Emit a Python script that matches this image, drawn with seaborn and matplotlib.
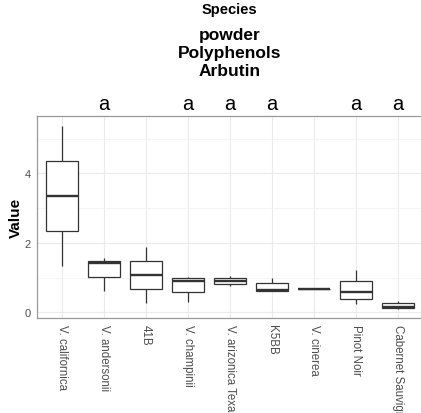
import numpy as np
import pandas as pd
import matplotlib
matplotlib.use("Agg")
import matplotlib.pyplot as plt
import matplotlib.transforms as mtransforms
from matplotlib.ticker import FixedLocator
import seaborn as sns

# Species shown on the x axis, left to right
species = ["V. californica", "V. andersonii", "41B", "V. champinii",
           "V. arizonica Texas", "K5BB", "V. cinerea", "Pinot Noir",
           "Cabernet Sauvignon"]

# Arbutin values per species (min, Q1, median, Q3, max)
v_californica = [1.34, 2.35, 3.36, 4.36, 5.37]
v_andersonii = [0.62, 1.01, 1.42, 1.49, 1.56]
v_41b = [0.27, 0.66, 1.08, 1.48, 1.87]
v_champinii = [0.29, 0.59, 0.90, 0.98, 1.02]
v_arizonica_texas = [0.77, 0.81, 0.90, 0.98, 1.04]
v_k5bb = [0.62, 0.62, 0.65, 0.84, 1.00]
v_cinerea = [0.66, 0.66, 0.66, 0.66, 0.66]
v_pinot_noir = [0.23, 0.40, 0.59, 0.90, 1.22]
v_cabernet = [0.10, 0.13, 0.17, 0.26, 0.32]

# Significance group letters above each species
letters = ["", "a", "", "a", "a", "a", "", "a", "a"]

y_ticks = [0, 2, 4]
title_lines = ["powder", "Polyphenols", "Arbutin"]

values = [v_californica, v_andersonii, v_41b, v_champinii, v_arizonica_texas,
          v_k5bb, v_cinerea, v_pinot_noir, v_cabernet]
df = pd.DataFrame({
    "Species": np.repeat(species, [len(v) for v in values]),
    "Value": np.concatenate(values),
})

sns.set_theme(style="white")
plt.rcParams["font.family"] = ["Liberation Sans", "DejaVu Sans"]

W, H = 421, 414
fig = plt.figure(figsize=(W / 100, H / 100), dpi=100)
left_px, right_px, top_px, bottom_px = 36.7, 423.0, 117.3, 319.0
ax = fig.add_axes([left_px / W, 1 - bottom_px / H,
                   (right_px - left_px) / W, (bottom_px - top_px) / H])

ax.set_axisbelow(True)
sns.boxplot(data=df, x="Species", y="Value", order=species, color="white",
            linecolor="#333333", linewidth=0.9, width=0.77, showcaps=False,
            fliersize=0, medianprops=dict(linewidth=1.7, color="#333333"),
            ax=ax)

ax.set_xlim(-0.6, len(species) - 0.4)
ax.set_ylim(-0.16, 5.64)
ax.yaxis.set_major_locator(FixedLocator(y_ticks))
ax.yaxis.set_minor_locator(FixedLocator([1, 3, 5]))
ax.grid(which="major", color="#ebebeb", linewidth=0.8)
ax.grid(which="minor", axis="y", color="#f2f2f2", linewidth=0.5)

for s in ax.spines.values():
    s.set_color("#999999")
    s.set_linewidth(0.9)
ax.spines["right"].set_visible(False)

ax.tick_params(axis="both", which="major", length=3, width=0.7,
               color="#555555", labelcolor="#4d4d4d", labelsize=8, pad=1.5)
ax.tick_params(axis="y", which="minor", length=0)
ax.tick_params(axis="x", labelrotation=270, labelsize=8.3)
for lab in ax.get_xticklabels():
    lab.set_ha("center")
    lab.set_va("top")

ax.set_xlabel("")
ax.set_ylabel("Value", fontsize=11, fontweight="bold", color="black",
              labelpad=1)

# group letters above the panel
trans = mtransforms.blended_transform_factory(ax.transData, fig.transFigure)
for i, letter in enumerate(letters):
    if letter:
        ax.text(i, 1 - 110 / H, letter, transform=trans, ha="center",
                va="baseline", fontsize=14.5, color="black", clip_on=False)

cx = (left_px + right_px) / 2 / W
fig.text(cx, 1 - 14 / H, "Species", ha="center", va="baseline",
         fontsize=10.5, fontweight="bold", color="black")
for k, line in enumerate(title_lines):
    fig.text(cx, 1 - (40 + 18 * k) / H, line, ha="center", va="baseline",
             fontsize=12.5, fontweight="bold", color="black")

fig.savefig("out.png", dpi=100)
